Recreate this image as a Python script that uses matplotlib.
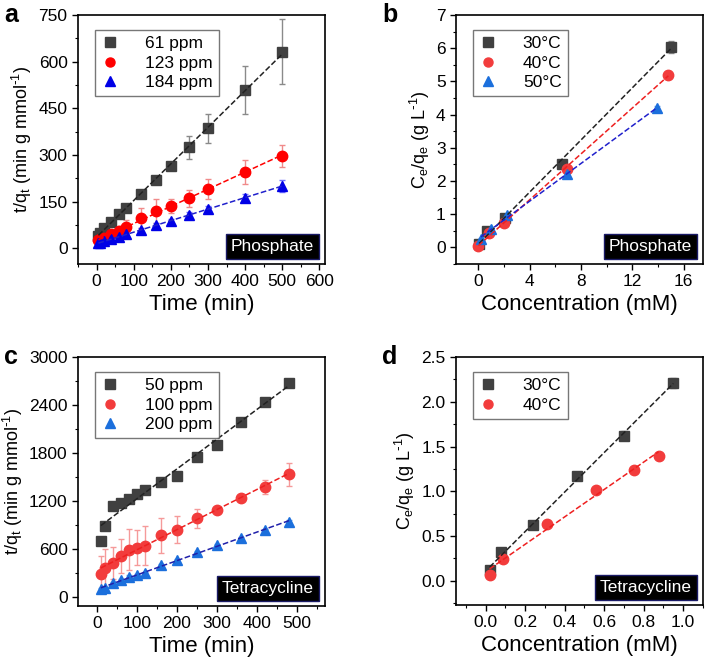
"""Kinetics and isotherm linear fits for phosphate and tetracycline."""
import matplotlib.pyplot as plt
import numpy as np
from matplotlib.ticker import AutoMinorLocator, MultipleLocator

plt.rcParams["font.family"] = ["Liberation Sans", "DejaVu Sans"]
plt.rcParams["mathtext.default"] = "regular"

# (a) phosphate kinetics, pseudo-second-order
a_time = [5, 10, 20, 40, 60, 80, 120, 160, 200, 250, 300, 400, 500]
a_61 = [40, 50, 65, 85, 110, 130, 175, 218, 265, 325, 385, 508, 632]
a_61_err = [15, 12, 10, 8, 6, 8, 6, 6, 8, 37, 48, 78, 105]
a_123 = [25, 28, 32, 45, 55, 68, 96, 120, 135, 160, 190, 245, 297]
a_123_err = [8, 8, 8, 10, 15, 22, 32, 38, 22, 28, 32, 38, 35]
a_184 = [15, 18, 22, 30, 35, 45, 58, 76, 88, 108, 125, 162, 200]
a_184_err = [8, 6, 5, 5, 5, 6, 6, 6, 6, 8, 10, 12, 20]

# (b) phosphate isotherms, Langmuir linear form
b_30_x = [0.05, 0.7, 2.1, 6.5, 15.0]
b_30_y = [0.1, 0.5, 0.9, 2.5, 6.05]
b_30_err = [0.02, 0.03, 0.04, 0.05, 0.18]
b_40_x = [0.0, 0.8, 2.0, 6.9, 14.8]
b_40_y = [0.03, 0.42, 0.72, 2.37, 5.2]
b_40_err = [0.02, 0.03, 0.04, 0.06, 0.1]
b_50_x = [0.2, 1.0, 2.2, 6.9, 13.9]
b_50_y = [0.25, 0.55, 0.97, 2.2, 4.2]
b_50_err = [0.02, 0.03, 0.04, 0.05, 0.06]

# (c) tetracycline kinetics
c_time = [10, 20, 40, 60, 80, 100, 120, 160, 200, 250, 300, 360, 420, 480]
c_50 = [700, 880, 1130, 1170, 1220, 1290, 1330, 1440, 1510, 1750, 1900, 2190, 2440, 2680]
c_50_err = [20, 20, 20, 20, 20, 20, 20, 20, 20, 20, 20, 20, 20, 20]
c_100 = [280, 360, 420, 510, 590, 610, 640, 770, 840, 980, 1090, 1240, 1370, 1530]
c_100_err = [230, 240, 200, 210, 260, 220, 240, 220, 170, 120, 30, 30, 90, 140]
c_200 = [90, 110, 170, 210, 250, 270, 290, 390, 460, 560, 650, 730, 830, 940]
c_200_err = [15, 15, 15, 15, 15, 15, 15, 15, 15, 15, 15, 15, 15, 15]

# (d) tetracycline isotherms
d_30_x = [0.02, 0.08, 0.24, 0.46, 0.70, 0.95]
d_30_y = [0.12, 0.32, 0.62, 1.17, 1.62, 2.21]
d_30_err = [0.02, 0.02, 0.02, 0.02, 0.05, 0.06]
d_40_x = [0.02, 0.09, 0.31, 0.56, 0.75, 0.875]
d_40_y = [0.07, 0.24, 0.64, 1.02, 1.24, 1.39]
d_40_err = [0.02, 0.02, 0.02, 0.02, 0.02, 0.02]

GREY, GREY_ERR = "#404040", "#8a8a8a"
RED_A, RED_A_ERR = "#ff0000", "#f08a8a"
BLUE_A, BLUE_A_ERR = "#0000e6", "#7070ff"
RED, RED_ERR = "#f23c3c", "#f59a9a"
BLUE, BLUE_ERR = "#1b6fdc", "#80aef0"

W, H = 709, 659


def add_ax(fig, left, top, right, bottom):
    return fig.add_axes([left / W, 1 - bottom / H, (right - left) / W, (bottom - top) / H])


def series(ax, x, y, err, label, color, ecolor, marker, line_color, ms=7.5):
    ax.errorbar(x, y, yerr=err, fmt="none", ecolor=ecolor,
                capsize=2.5, elinewidth=1, capthick=1, zorder=2)
    ax.plot(x, y, marker, ls="none", color=color, ms=ms, label=label, zorder=3)
    k, b = np.polyfit(x, y, 1)
    xs = np.array([min(x), max(x)])
    ax.plot(xs, k * xs + b, "--", color=line_color, lw=1.1, zorder=4)


def style(ax, xlabel, ylabel, letter, box):
    ax.set_xlabel(xlabel, fontsize=16, labelpad=3)
    ax.set_ylabel(ylabel, fontsize=13, labelpad=3)
    ax.tick_params(which="both", direction="out", top=False, right=False, labelsize=12.5)
    ax.tick_params(which="major", length=4, width=1)
    ax.tick_params(which="minor", length=2, width=0.8)
    ax.xaxis.set_minor_locator(AutoMinorLocator(2))
    ax.yaxis.set_minor_locator(AutoMinorLocator(2))
    for s in ax.spines.values():
        s.set_linewidth(1.2)
    leg = ax.legend(loc="upper left", fontsize=12.5, frameon=True, fancybox=False,
                    edgecolor="#555555", handlelength=1.0, handletextpad=1.5,
                    labelspacing=0.25, borderpad=0.35, bbox_to_anchor=(0.035, 0.975))
    leg.get_frame().set_linewidth(1.0)
    for h in leg.legend_handles:
        h.set_markersize(6.5)
    ax.text(0.955, 0.04, box, transform=ax.transAxes, ha="right", va="bottom",
            fontsize=12.5, color="white",
            bbox=dict(facecolor="black", edgecolor="#1a1a66", pad=3.5))
    ax.text(-0.3, 1.0, letter, transform=ax.transAxes, ha="left", va="center",
            fontsize=18, fontweight="bold")


fig = plt.figure(figsize=(W / 100, H / 100), dpi=100)

ylab_t = r"t/q$_{t}$ (min g mmol$^{\text{-}1}$)"
ylab_c = r"C$_{e}$/q$_{e}$ (g L$^{\text{-}1}$)"

ax = add_ax(fig, 78, 15, 325, 264)
series(ax, a_time, a_61, a_61_err, "61 ppm", GREY, GREY_ERR, "s", "#222222", ms=7)
series(ax, a_time, a_123, a_123_err, "123 ppm", RED_A, RED_A_ERR, "o", RED_A)
series(ax, a_time, a_184, a_184_err, "184 ppm", BLUE_A, BLUE_A_ERR, "^", "#2020cc")
ax.set_xlim(-50, 615)
ax.set_ylim(-51, 750)
ax.xaxis.set_major_locator(MultipleLocator(100))
ax.yaxis.set_major_locator(MultipleLocator(150))
style(ax, "Time (min)", ylab_t, "a", "Phosphate")

ax = add_ax(fig, 456, 15, 703, 264)
series(ax, b_30_x, b_30_y, b_30_err, "30°C", GREY, GREY_ERR, "s", "#222222", ms=7)
series(ax, b_40_x, b_40_y, b_40_err, "40°C", RED, RED_ERR, "o", "#ee2020")
series(ax, b_50_x, b_50_y, b_50_err, "50°C", BLUE, BLUE_ERR, "^", "#2020cc")
ax.set_xlim(-1.75, 17.5)
ax.set_ylim(-0.5, 7)
ax.xaxis.set_major_locator(MultipleLocator(4))
ax.yaxis.set_major_locator(MultipleLocator(1))
style(ax, "Concentration (mM)", ylab_c, "b", "Phosphate")

ax = add_ax(fig, 78, 357, 325, 606)
series(ax, c_time, c_50, c_50_err, "50 ppm", GREY, GREY_ERR, "s", "#222222", ms=7)
series(ax, c_time, c_100, c_100_err, "100 ppm", RED, RED_ERR, "o", "#ee2020")
series(ax, c_time, c_200, c_200_err, "200 ppm", BLUE, BLUE_ERR, "^", "#2020aa")
ax.set_xlim(-47, 570)
ax.set_ylim(-117, 3000)
ax.xaxis.set_major_locator(MultipleLocator(100))
ax.yaxis.set_major_locator(MultipleLocator(600))
style(ax, "Time (min)", ylab_t, "c", "Tetracycline")

ax = add_ax(fig, 456, 357, 703, 605)
series(ax, d_30_x, d_30_y, d_30_err, "30°C", GREY, GREY_ERR, "s", "#222222", ms=7)
series(ax, d_40_x, d_40_y, d_40_err, "40°C", RED, RED_ERR, "o", "#ee2020")
ax.set_xlim(-0.15, 1.1)
ax.set_ylim(-0.27, 2.5)
ax.xaxis.set_major_locator(MultipleLocator(0.2))
ax.yaxis.set_major_locator(MultipleLocator(0.5))
ax.xaxis.set_major_formatter(plt.FormatStrFormatter("%.1f"))
ax.yaxis.set_major_formatter(plt.FormatStrFormatter("%.1f"))
style(ax, "Concentration (mM)", ylab_c, "d", "Tetracycline")

fig.savefig("out.png", dpi=100)
